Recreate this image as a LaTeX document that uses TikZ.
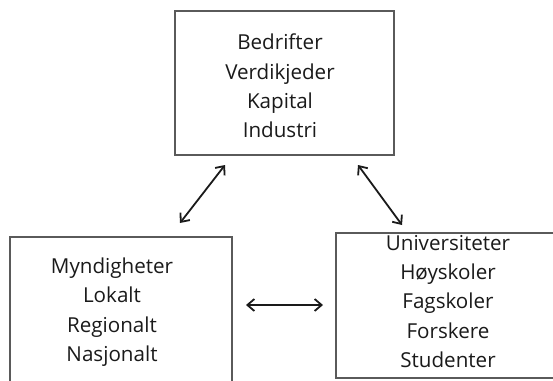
\documentclass[tikz,border=0pt]{standalone}
\usepackage{fontspec}
\setmainfont{Open Sans}
\usetikzlibrary{arrows.meta}
\definecolor{boxgray}{HTML}{5A5A5A}
\definecolor{txt}{HTML}{1A1A1A}
\begin{document}
\begin{tikzpicture}[x=1pt,y=-1pt,
  boxstyle/.style={draw=boxgray,line width=2.1pt,rectangle,inner sep=0pt},
  label/.style={align=center,text=txt,inner sep=0pt,font=\fontsize{20.6}{29.3}\selectfont},
  link/.style={line width=1.8pt,draw=txt,{Straight Barb[length=7pt,width=12pt]}-{Straight Barb[length=7pt,width=12pt]}}]
\useasboundingbox (0,0) rectangle (553,380);
\fill[white] (0,0) rectangle (553,380);
% boxes
\node[boxstyle,minimum width=219pt,minimum height=144pt] (top) at (284.5,83) {};
\node[boxstyle,minimum width=222pt,minimum height=150pt] (left) at (121,312) {};
\node[boxstyle,minimum width=224pt,minimum height=145pt] (right) at (448,305.5) {};
% texts
\node[label] (toptext) at (280,86) {Bedrifter\\Verdikjeder\\Kapital\\Industri};
\node[label] (lefttext) at (112,312) {Myndigheter\\Lokalt\\Regionalt\\Nasjonalt};
\node[label] (righttext) at (448,301.5) {Universiteter\\Høyskoler\\Fagskoler\\Forskere\\Studenter};
% connector ends
\coordinate (tl) at (225,165);
\coordinate (lt) at (180,223);
\coordinate (tr) at (358,165);
\coordinate (rt) at (402,225);
\coordinate (lr) at (246,305);
\coordinate (rl) at (323,305);
\draw[link] (tl) -- (lt);
\draw[link] (tr) -- (rt);
\draw[link] (lr) -- (rl);
\end{tikzpicture}
\end{document}
